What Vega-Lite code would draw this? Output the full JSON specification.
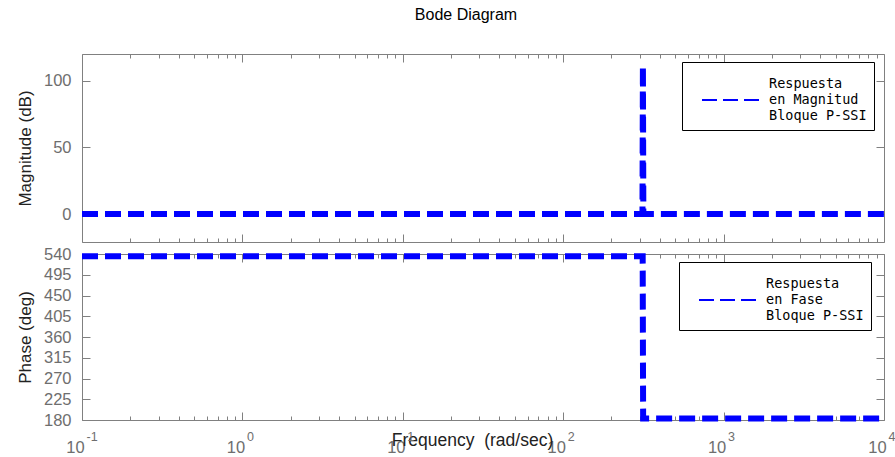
{
  "$schema": "https://vega.github.io/schema/vega-lite/v6.json",
  "padding": {"left": 16, "right": 0, "top": 6, "bottom": 4},
  "title": {"text": "Bode Diagram", "font": "Liberation Sans", "fontSize": 16, "fontWeight": "normal", "color": "#000000", "anchor": "middle", "frame": "group", "offset": 31, "dx": -17},
  "spacing": 1,
  "resolve": {"scale": {"color": "independent"}, "legend": {"color": "independent"}},
  "config": {
    "font": "Liberation Sans",
    "view": {"stroke": null},
    "axis": {
      "domainColor": "#808080", "tickColor": "#808080", "labelColor": "#6e6e6e",
      "labelFont": "Liberation Sans", "labelFontSize": 16.5,
      "titleFont": "Liberation Sans", "titleFontSize": 17, "titleFontWeight": "normal", "titleColor": "#222222",
      "grid": false, "domainWidth": 1, "tickWidth": 1
    }
  },
  "vconcat": [
    {
      "width": 802,
      "height": 188,
      "data": {"values": [
        {"w": 0.1, "mag": 0, "serie": "Respuesta en Magnitud Bloque P-SSI"},
        {"w": 1, "mag": 0, "serie": "Respuesta en Magnitud Bloque P-SSI"},
        {"w": 10, "mag": 0, "serie": "Respuesta en Magnitud Bloque P-SSI"},
        {"w": 100, "mag": 0, "serie": "Respuesta en Magnitud Bloque P-SSI"},
        {"w": 312, "mag": 0, "serie": "Respuesta en Magnitud Bloque P-SSI"},
        {"w": 314, "mag": 111, "serie": "Respuesta en Magnitud Bloque P-SSI"},
        {"w": 316, "mag": 0, "serie": "Respuesta en Magnitud Bloque P-SSI"},
        {"w": 1000, "mag": 0, "serie": "Respuesta en Magnitud Bloque P-SSI"},
        {"w": 10000, "mag": 0, "serie": "Respuesta en Magnitud Bloque P-SSI"}
      ]},
      "layer": [
        {
          "mark": {"type": "line", "strokeWidth": 6, "strokeDash": [16, 7]},
          "encoding": {
            "x": {"field": "w", "type": "quantitative", "scale": {"type": "log", "domain": [0.1, 10000], "nice": false},
              "axis": {"orient": "bottom", "labels": false, "title": null,
                "values": [0.1,0.2,0.3,0.4,0.5,0.6,0.7,0.8,0.9,1,2,3,4,5,6,7,8,9,10,20,30,40,50,60,70,80,90,100,200,300,400,500,600,700,800,900,1000,2000,3000,4000,5000,6000,7000,8000,9000,10000],
                "tickSize": {"condition": {"test": "abs(log(datum.value)/LN10 - round(log(datum.value)/LN10)) < 0.001", "value": -8}, "value": -4}}},
            "y": {"field": "mag", "type": "quantitative", "scale": {"domain": [-21, 120], "nice": false, "zero": false},
              "axis": {"orient": "left", "values": [0, 50, 100], "tickSize": -8, "labelPadding": 19,
                "title": "Magnitude (dB)", "titleX": -57, "titleY": 94, "titleAngle": -90, "titleAlign": "center", "titleBaseline": "middle"}},
            "color": {"field": "serie", "type": "nominal", "scale": {"range": ["#0000ff"]},
              "legend": {"orient": "none", "legendX": 600, "legendY": 8, "title": null,
                "symbolType": "stroke", "symbolSize": 3600, "symbolStrokeWidth": 2, "symbolDash": [15, 6], "symbolStrokeColor": "#0000ff",
                "labelExpr": "['Respuesta', 'en Magnitud', 'Bloque P-SSI']",
                "labelFont": "DejaVu Sans Mono", "labelFontSize": 13.5, "labelColor": "#000000", "labelOffset": 6, "labelLimit": 300,
                "symbolOffset": 12, "padding": 7, "strokeColor": "#000000", "fillColor": "#ffffff",
                "encode": {"labels": {"update": {"lineHeight": {"value": 16}, "dy": {"value": -16}}}}}}
          }
        },
        {
          "mark": {"type": "line", "opacity": 0},
          "encoding": {
            "x": {"field": "w", "type": "quantitative", "scale": {"type": "log", "domain": [0.1, 10000], "nice": false},
              "axis": {"orient": "top", "labels": false, "title": null,
                "values": [0.1,0.2,0.3,0.4,0.5,0.6,0.7,0.8,0.9,1,2,3,4,5,6,7,8,9,10,20,30,40,50,60,70,80,90,100,200,300,400,500,600,700,800,900,1000,2000,3000,4000,5000,6000,7000,8000,9000,10000],
                "tickSize": {"condition": {"test": "abs(log(datum.value)/LN10 - round(log(datum.value)/LN10)) < 0.001", "value": -8}, "value": -4}}},
            "y": {"field": "mag", "type": "quantitative", "scale": {"domain": [-21, 120], "nice": false, "zero": false},
              "axis": {"orient": "right", "values": [0, 50, 100], "tickSize": -8, "labels": false, "title": null}}
          }
        }
      ],
      "resolve": {"axis": {"x": "independent", "y": "independent"}}
    },
    {
      "width": 802,
      "height": 166,
      "data": {"values": [
        {"w": 0.1, "fase": 535, "serie": "Respuesta en Fase Bloque P-SSI"},
        {"w": 1, "fase": 535, "serie": "Respuesta en Fase Bloque P-SSI"},
        {"w": 10, "fase": 535, "serie": "Respuesta en Fase Bloque P-SSI"},
        {"w": 100, "fase": 535, "serie": "Respuesta en Fase Bloque P-SSI"},
        {"w": 313, "fase": 535, "serie": "Respuesta en Fase Bloque P-SSI"},
        {"w": 315, "fase": 183, "serie": "Respuesta en Fase Bloque P-SSI"},
        {"w": 1000, "fase": 183, "serie": "Respuesta en Fase Bloque P-SSI"},
        {"w": 10000, "fase": 183, "serie": "Respuesta en Fase Bloque P-SSI"}
      ]},
      "layer": [
        {
          "mark": {"type": "line", "strokeWidth": 6, "strokeDash": [16, 7]},
          "encoding": {
            "x": {"field": "w", "type": "quantitative", "scale": {"type": "log", "domain": [0.1, 10000], "nice": false},
              "axis": {"orient": "bottom", "labelOverlap": false, "labelFlush": false, "labelPadding": 40, "labelBaseline": "alphabetic", "labelOffset": -7,
                "labelExpr": "datum.value == 0.1 || datum.value == 1 || datum.value == 10 || datum.value == 100 || datum.value == 1000 || datum.value == 10000 ? '10' : ''",
                "values": [0.1,0.2,0.3,0.4,0.5,0.6,0.7,0.8,0.9,1,2,3,4,5,6,7,8,9,10,20,30,40,50,60,70,80,90,100,200,300,400,500,600,700,800,900,1000,2000,3000,4000,5000,6000,7000,8000,9000,10000],
                "tickSize": {"condition": {"test": "abs(log(datum.value)/LN10 - round(log(datum.value)/LN10)) < 0.001", "value": -8}, "value": -4},
                "title": "Frequency\u00a0 (rad/sec)", "titleFontSize": 17.5, "titleX": 390, "titleY": 25, "titleBaseline": "alphabetic", "titleAlign": "center"}},
            "y": {"field": "fase", "type": "quantitative", "scale": {"domain": [180, 540], "nice": false, "zero": false},
              "axis": {"orient": "left", "values": [180, 225, 270, 315, 360, 405, 450, 495, 540], "tickSize": -8, "labelPadding": 19,
                "title": "Phase (deg)", "titleX": -57, "titleY": 83, "titleAngle": -90, "titleAlign": "center", "titleBaseline": "middle"}},
            "color": {"field": "serie", "type": "nominal", "scale": {"range": ["#0000ff"]},
              "legend": {"orient": "none", "legendX": 597, "legendY": 8, "title": null,
                "symbolType": "stroke", "symbolSize": 3600, "symbolStrokeWidth": 2, "symbolDash": [15, 6], "symbolStrokeColor": "#0000ff",
                "labelExpr": "['Respuesta', 'en Fase', 'Bloque P-SSI']",
                "labelFont": "DejaVu Sans Mono", "labelFontSize": 13.5, "labelColor": "#000000", "labelOffset": 6, "labelLimit": 300,
                "symbolOffset": 12, "padding": 7, "strokeColor": "#000000", "fillColor": "#ffffff",
                "encode": {"labels": {"update": {"lineHeight": {"value": 16}, "dy": {"value": -16}}}}}}
          }
        },
        {
          "mark": {"type": "line", "opacity": 0},
          "encoding": {
            "x": {"field": "w", "type": "quantitative", "scale": {"type": "log", "domain": [0.1, 10000], "nice": false},
              "axis": {"orient": "top", "labels": false, "title": null,
                "values": [0.1,0.2,0.3,0.4,0.5,0.6,0.7,0.8,0.9,1,2,3,4,5,6,7,8,9,10,20,30,40,50,60,70,80,90,100,200,300,400,500,600,700,800,900,1000,2000,3000,4000,5000,6000,7000,8000,9000,10000],
                "tickSize": {"condition": {"test": "abs(log(datum.value)/LN10 - round(log(datum.value)/LN10)) < 0.001", "value": -8}, "value": -4}}},
            "y": {"field": "fase", "type": "quantitative", "scale": {"domain": [180, 540], "nice": false, "zero": false},
              "axis": {"orient": "right", "values": [180, 225, 270, 315, 360, 405, 450, 495, 540], "tickSize": -8, "labels": false, "title": null}}
          }
        },
        {
          "mark": {"type": "line", "opacity": 0},
          "encoding": {
            "x": {"field": "w", "type": "quantitative", "scale": {"type": "log", "domain": [0.1, 10000], "nice": false},
              "axis": {"orient": "bottom", "offset": 0, "domain": false, "ticks": false, "title": null,
                "values": [0.1, 1, 10, 100, 1000, 10000],
                "labelExpr": "datum.value == 0.1 ? '-1' : datum.value == 1 ? '0' : datum.value == 10 ? '1' : datum.value == 100 ? '2' : datum.value == 1000 ? '3' : '4'",
                "labelOverlap": false, "labelFlush": false, "labelAlign": "left", "labelBaseline": "alphabetic", "labelOffset": 4, "labelPadding": 20, "labelFontSize": 12.5}}
          }
        }
      ],
      "resolve": {"axis": {"x": "independent", "y": "independent"}}
    }
  ]
}
